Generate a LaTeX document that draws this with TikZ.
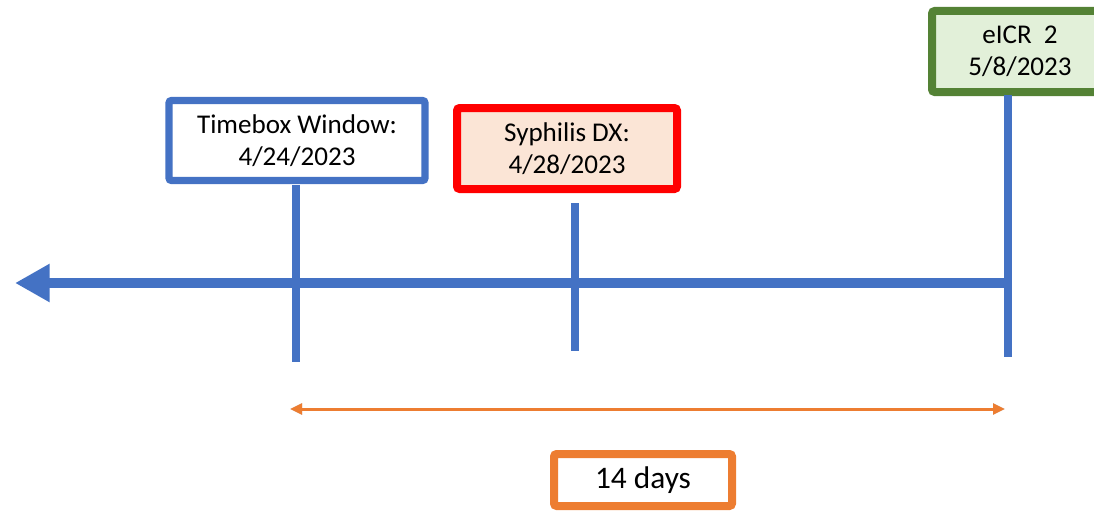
\documentclass[tikz,border=0pt]{standalone}
\usepackage{fontspec}
\setmainfont{Carlito}
\usetikzlibrary{arrows.meta}
\definecolor{tlblue}{HTML}{4472C4}
\definecolor{tlred}{HTML}{FF0000}
\definecolor{tlpeach}{HTML}{FBE5D6}
\definecolor{tlgreen}{HTML}{548235}
\definecolor{tllightgreen}{HTML}{E2F0D9}
\definecolor{tlorange}{HTML}{ED7D31}
\begin{document}
\begin{tikzpicture}
  [
    x=0.75pt, y=-0.75pt,
    every node/.style={align=center, font=\fontsize{20.3}{24}\selectfont},
    datebox/.style={draw, line width=5.5pt, rounded corners=2pt, inner sep=0pt,
      minimum height=80*0.75pt},
    tick/.style={tlblue, line width=6pt},
    timeline/.style={tlblue, line width=7.5pt, -{Triangle[length=26pt,width=27pt]}},
    span/.style={tlorange, line width=2.25pt, {Triangle[length=9pt,width=8pt]}-{Triangle[length=9pt,width=8pt]}}
  ]
  \useasboundingbox (0,0) rectangle (1094,510);
  \clip (0,0) rectangle (1094,510);

  % boxes
  \node[datebox, tlblue, fill=white, text=black, minimum width=256*0.75pt]
    (timebox) at (297,140.5) {Timebox Window:\\4/24/2023};
  \node[datebox, tlred, line width=6pt, fill=tlpeach, text=black, minimum width=220*0.75pt, minimum height=81*0.75pt]
    (syphilis) at (567,148.5) {Syphilis DX:\\4/28/2023};
  % eICR box runs off the right edge
  \fill[tllightgreen] (932,11) rectangle (1150,92);
  \draw[tlgreen, line width=6pt, rounded corners=2pt] (1150,11) -- (932,11) -- (932,92) -- (1150,92);
  \node (eicr) at (1020,51.5) {eICR\ \ 2\\5/8/2023};
  \node[datebox, tlorange, line width=6pt, fill=white, text=black, minimum width=178*0.75pt, minimum height=52*0.75pt,
    font=\fontsize{23.5}{28}\selectfont]
    (days) at (643,480) {14 days};

  % timeline
  \coordinate (lineend) at (1010,283);
  \coordinate (linetip) at (15,283);
  \draw[timeline] (lineend) -- (linetip);

  % ticks
  \coordinate (timeboxtop) at (296,185);
  \coordinate (timeboxbot) at (296,362);
  \coordinate (syphilistop) at (575,203);
  \coordinate (syphilisbot) at (575,351);
  \coordinate (eicrtop) at (1008,95);
  \coordinate (eicrbot) at (1008,357);
  \draw[tick] (timeboxtop) -- (timeboxbot);
  \draw[tick] (syphilistop) -- (syphilisbot);
  \draw[tick] (eicrtop) -- (eicrbot);

  % 14 day span
  \coordinate (spanstart) at (290,409);
  \coordinate (spanend) at (1005,409);
  \draw[span, black!25, shift={(1.5,3)}] (spanstart) -- (spanend);
  \draw[span] (spanstart) -- (spanend);
\end{tikzpicture}
\end{document}
